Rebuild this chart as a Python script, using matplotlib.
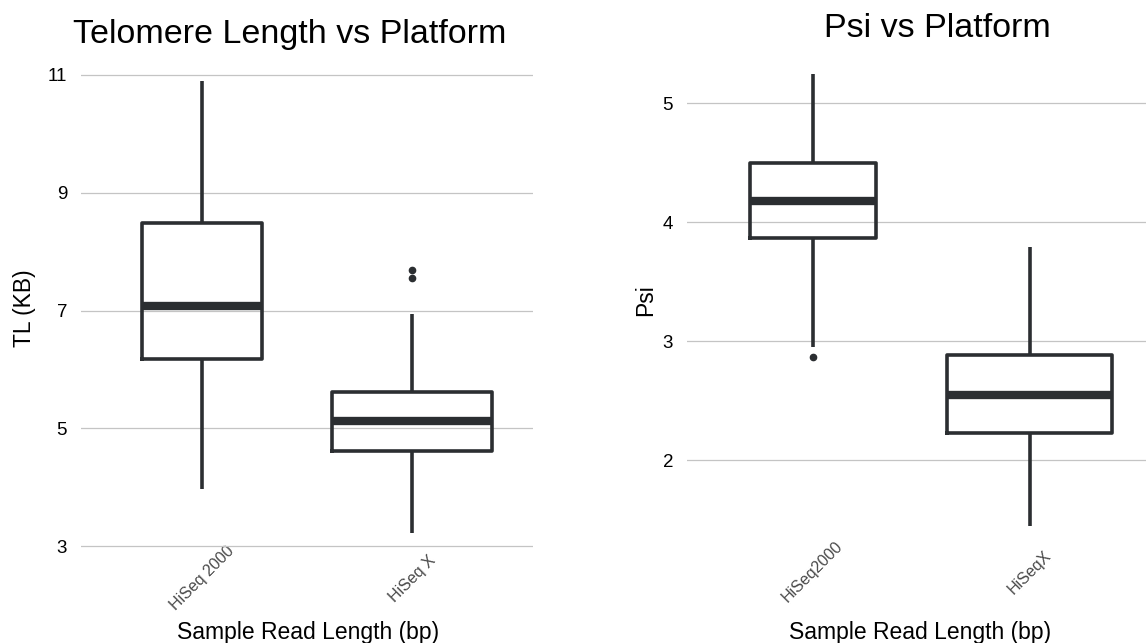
import matplotlib
matplotlib.use("Agg")
import matplotlib.pyplot as plt

plt.rcParams['font.family'] = ['Liberation Sans', 'DejaVu Sans']

# ---- data: Telomere length ----
tl_platforms = ["HiSeq 2000", "HiSeq X"]
tl_whislo = [3.97, 3.23]
tl_q1 = [6.17, 4.61]
tl_med = [7.07, 5.12]
tl_q3 = [8.485, 5.61]
tl_whishi = [10.89, 6.94]
tl_fliers = [[], [7.55, 7.69]]
tl_widths = [0.57, 0.76]
tl_yticks = [3, 5, 7, 9, 11]

# ---- data: Psi ----
psi_platforms = ["HiSeq2000", "HiSeqX"]
psi_whislo = [2.955, 1.45]
psi_q1 = [3.87, 2.23]
psi_med = [4.18, 2.55]
psi_q3 = [4.50, 2.885]
psi_whishi = [5.24, 3.79]
psi_fliers = [[2.87], []]
psi_widths = [0.58, 0.76]
psi_yticks = [2, 3, 4, 5]

LINE = "#2b2e31"
GRID = "#c4c4c4"

fig = plt.figure(figsize=(11.46, 6.43), dpi=100)


def draw(ax, labels, lo, q1, med, q3, hi, fliers, widths, yticks, ylim, xlim):
    stats = []
    for i in range(len(labels)):
        stats.append(dict(label=labels[i], whislo=lo[i], q1=q1[i], med=med[i],
                          q3=q3[i], whishi=hi[i], fliers=fliers[i]))
    ax.bxp(stats, positions=list(range(1, len(labels) + 1)), widths=widths,
           showcaps=False, patch_artist=False,
           boxprops=dict(color=LINE, linewidth=2.6, solid_joinstyle='round'),
           whiskerprops=dict(color=LINE, linewidth=2.6, solid_capstyle='butt'),
           medianprops=dict(color=LINE, linewidth=6.0, solid_capstyle='butt'),
           flierprops=dict(marker='o', markerfacecolor=LINE, markeredgecolor=LINE,
                           markersize=4.5, linestyle='none'),
           zorder=3)
    ax.set_ylim(*ylim)
    ax.set_xlim(*xlim)
    ax.set_yticks(yticks)
    ax.set_yticklabels([str(t) for t in yticks], fontsize=13.5, color='black')
    ax.grid(axis='y', color=GRID, linewidth=0.9, zorder=0)
    ax.grid(axis='x', visible=False)
    ax.set_axisbelow(True)
    for s in ax.spines.values():
        s.set_visible(False)
    ax.tick_params(axis='both', length=0)
    ax.tick_params(axis='y', pad=10)
    ax.set_xticks(range(1, len(labels) + 1))
    ax.set_xticklabels(labels, rotation=45, rotation_mode='anchor',
                       ha='center', va='center', fontsize=11.5, color='#4a4a4a')
    ax.tick_params(axis='x', pad=17)


ax1 = fig.add_axes([81 / 1146, 1 - 555 / 643, (533 - 81) / 1146, (555 - 59) / 643])
draw(ax1, tl_platforms, tl_whislo, tl_q1, tl_med, tl_q3, tl_whishi, tl_fliers,
     tl_widths, tl_yticks, (2.85, 11.27), (0.424, 2.576))

ax2 = fig.add_axes([687 / 1146, 1 - 548.6 / 643, (1146 - 687) / 1146, (548.6 - 51.8) / 643])
draw(ax2, psi_platforms, psi_whislo, psi_q1, psi_med, psi_q3, psi_whishi, psi_fliers,
     psi_widths, psi_yticks, (1.258, 5.43), (0.42, 2.535))

# titles and axis labels
fig.text(290 / 1146, 1 - 43 / 643, "Telomere Length vs Platform", fontsize=24.5,
         ha='center', va='baseline')
fig.text(937 / 1146, 1 - 37 / 643, "Psi vs Platform", fontsize=24.5,
         ha='center', va='baseline')
fig.text(25 / 1146, 1 - 308 / 643, "TL (KB)", fontsize=16.5, rotation=90,
         ha='center', va='center')
fig.text(646 / 1146, 1 - 300 / 643, "Psi", fontsize=16.5, rotation=90,
         ha='center', va='center')
fig.text(308 / 1146, 1 - 632 / 643, "Sample Read Length (bp)", fontsize=16.5,
         ha='center', va='center')
fig.text(920 / 1146, 1 - 632 / 643, "Sample Read Length (bp)", fontsize=16.5,
         ha='center', va='center')

fig.savefig("out.png", dpi=100)
